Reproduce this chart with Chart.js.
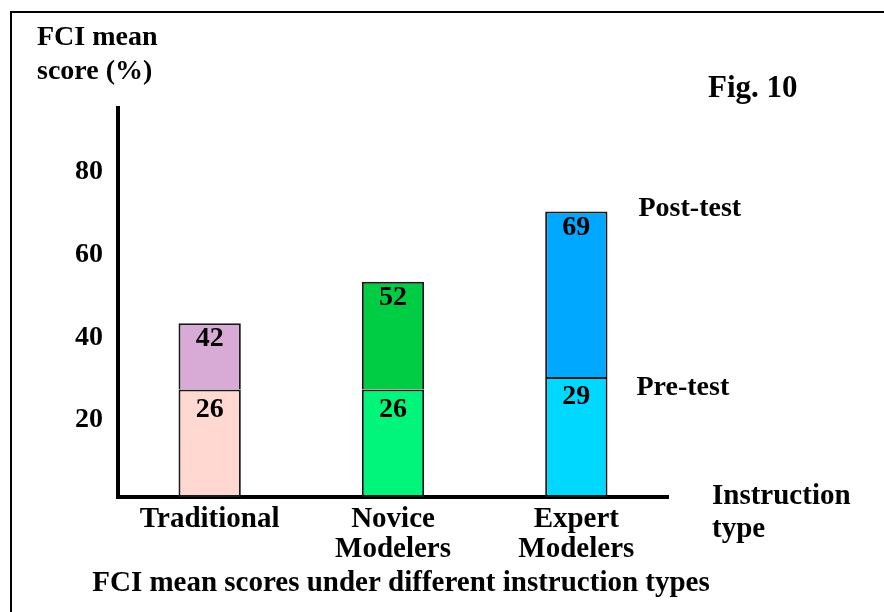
<!DOCTYPE html>
<html>
<head>
<meta charset="utf-8">
<script src="https://cdn.jsdelivr.net/npm/chart.js@4"></script>
<style>
  html, body { margin: 0; padding: 0; background: #fff; }
  #wrap { width: 884px; height: 612px; position: relative; }
</style>
</head>
<body>
<div id="wrap"><canvas id="c" width="884" height="612"></canvas></div>
<script>
const categories = [['Traditional'], ['Novice', 'Modelers'], ['Expert', 'Modelers']];
const preTest = [26, 26, 29];
const postTest = [42, 52, 69];
const yTicks = [20, 40, 60, 80];
const preColors = ['#FFD8D2', '#00F57A', '#00D8FF'];
const postColors = ['#D8AAD6', '#00CC44', '#00A8FF'];

const gain = postTest.map((v, i) => v - preTest[i]);
const FONT = '"Liberation Serif", "Times New Roman", serif';

const textPlugin = {
  id: 'texts',
  afterDatasetsDraw(chart) {
    const ctx = chart.ctx;
    ctx.save();
    ctx.fillStyle = '#000';
    const m0 = chart.getDatasetMeta(0), m1 = chart.getDatasetMeta(1);
    ctx.font = 'bold 28px ' + FONT;
    ctx.textAlign = 'center';
    ctx.textBaseline = 'middle';
    m0.data.forEach((el, i) => ctx.fillText(String(preTest[i]), el.x, el.y + 20));
    m1.data.forEach((el, i) => ctx.fillText(String(postTest[i]), el.x, el.y + 16));
    const last = m1.data.length - 1;
    const pe = m1.data[last], pr = m0.data[last];
    ctx.font = 'bold 28px ' + FONT;
    ctx.textAlign = 'left';
    ctx.fillText('Post-test', pe.x + pe.width / 2 + 31, pe.y - 3);
    ctx.fillText('Pre-test', pr.x + pr.width / 2 + 29, pr.y + 11);
    ctx.restore();
  },
  afterDraw(chart) {
    const ctx = chart.ctx;
    ctx.save();
    ctx.strokeStyle = '#000';
    ctx.lineWidth = 2;
    ctx.beginPath();
    ctx.moveTo(11, 612);
    ctx.lineTo(11, 12);
    ctx.lineTo(884, 12);
    ctx.stroke();
    ctx.fillStyle = '#000';
    ctx.textBaseline = 'middle';
    ctx.textAlign = 'left';
    ctx.font = 'bold 28px ' + FONT;
    ctx.fillText('FCI mean', 37, 38);
    ctx.fillText('score (%)', 37, 72);
    ctx.font = 'bold 31px ' + FONT;
    ctx.fillText('Fig. 10', 708, 89);
    ctx.font = 'bold 29px ' + FONT;
    ctx.fillText('Instruction', 712, 497);
    ctx.fillText('type', 712, 530);
    ctx.textAlign = 'center';
    ctx.fillText('FCI mean scores under different instruction types', 401, 584);
    ctx.restore();
  }
};

new Chart(document.getElementById('c'), {
  type: 'bar',
  data: {
    labels: categories,
    datasets: [
      { label: 'Pre-test', data: preTest, backgroundColor: preColors, borderColor: '#1a1a1a', borderWidth: 2, borderSkipped: false, barPercentage: 0.34, categoryPercentage: 1 },
      { label: 'Post-test', data: gain, backgroundColor: postColors, borderColor: '#1a1a1a', borderWidth: { top: 2, left: 2, right: 2, bottom: 0 }, borderSkipped: false, barPercentage: 0.34, categoryPercentage: 1 }
    ]
  },
  options: {
    responsive: false,
    animation: false,
    layout: { padding: { left: 0, right: 216, top: 108, bottom: 0 } },
    plugins: { legend: { display: false }, tooltip: { enabled: false }, title: { display: false } },
    scales: {
      x: {
        stacked: true,
        grid: { display: false, drawTicks: false },
        border: { display: true, color: '#000', width: 4 },
        ticks: { color: '#000', font: { family: FONT, size: 29, weight: 'bold', lineHeight: 1.05 }, padding: 7, maxRotation: 0 },
        afterFit(s) { s.height = 115; }
      },
      y: {
        stacked: true,
        min: 0,
        max: 94,
        grid: { display: false, drawTicks: false },
        border: { display: true, color: '#000', width: 4 },
        afterBuildTicks(s) { s.ticks = yTicks.map(v => ({ value: v })); },
        ticks: { color: '#000', font: { family: FONT, size: 28, weight: 'bold' }, padding: 15, labelOffset: 6 },
        afterFit(s) { s.width = 118; }
      }
    }
  },
  plugins: [textPlugin]
});
</script>
</body>
</html>
